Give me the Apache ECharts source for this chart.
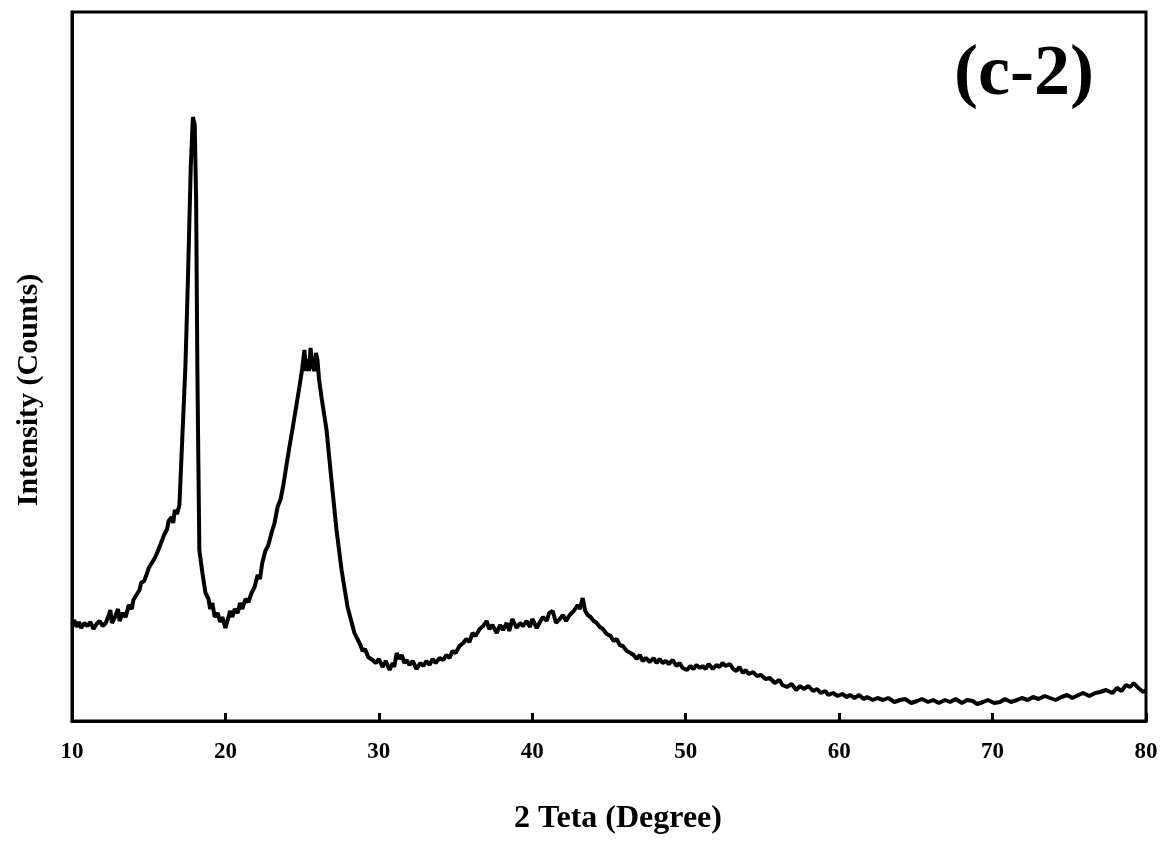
<!DOCTYPE html>
<html>
<head>
<meta charset="utf-8">
<script src="https://cdn.jsdelivr.net/npm/echarts@6/dist/echarts.min.js"></script>
<style>
  html, body { margin: 0; padding: 0; background: #fff; }
  #chart { width: 1162px; height: 841px; }
</style>
</head>
<body>
<div id="chart"></div>
<script>
// 2-theta positions (degree)
var twoTheta = [
  10.0, 10.15, 10.3, 10.45, 10.6, 10.8, 11.0, 11.2, 11.4, 11.6, 11.8, 12.0, 12.2, 12.4, 12.5, 12.6, 12.8, 13.0, 13.1, 13.3,
  13.5, 13.7, 13.9, 14.0, 14.2, 14.4, 14.5, 14.7, 14.9, 15.0, 15.2, 15.4, 15.6, 15.8, 16.0, 16.2, 16.3, 16.5, 16.6, 16.7,
  16.85, 17.0, 17.1, 17.39, 17.55, 17.74, 17.88, 18.0, 18.09, 18.17, 18.24, 18.3, 18.5, 18.7, 18.9, 19.0, 19.15, 19.3, 19.5, 19.65,
  19.8, 20.0, 20.15, 20.3, 20.45, 20.6, 20.8, 20.95, 21.1, 21.3, 21.5, 21.7, 21.9, 22.1, 22.25, 22.4, 22.6, 22.8, 23.0, 23.2,
  23.4, 23.6, 23.8, 24.0, 24.17, 24.35, 24.5, 24.65, 24.82, 25.0, 25.15, 25.25, 25.35, 25.45, 25.55, 25.65, 25.8, 25.9, 26.0, 26.1,
  26.26, 26.59, 26.91, 27.24, 27.57, 27.96, 28.2, 28.41, 28.6, 28.8, 28.94, 29.1, 29.3, 29.59, 29.8, 30.0, 30.24, 30.45, 30.7, 30.9,
  31.0, 31.16, 31.35, 31.5, 31.65, 31.81, 32.0, 32.2, 32.46, 32.7, 32.9, 33.1, 33.31, 33.5, 33.7, 33.96, 34.2, 34.4, 34.61, 34.8,
  35.0, 35.26, 35.5, 35.7, 35.91, 36.1, 36.3, 36.57, 36.8, 37.02, 37.2, 37.4, 37.68, 37.9, 38.1, 38.33, 38.5, 38.7, 38.98, 39.2,
  39.4, 39.63, 39.85, 40.0, 40.29, 40.5, 40.7, 40.94, 41.1, 41.33, 41.55, 41.79, 42.0, 42.2, 42.44, 42.7, 42.96, 43.1, 43.29, 43.45,
  43.61, 43.8, 44.0, 44.2, 44.4, 44.6, 44.85, 45.1, 45.3, 45.5, 45.7, 45.9, 46.16, 46.4, 46.6, 46.81, 47.0, 47.2, 47.4, 47.66,
  47.9, 48.1, 48.3, 48.5, 48.7, 48.9, 49.16, 49.4, 49.6, 49.8, 50.08, 50.3, 50.5, 50.7, 50.92, 51.1, 51.3, 51.5, 51.77, 52.0,
  52.2, 52.4, 52.6, 52.88, 53.1, 53.3, 53.5, 53.73, 53.9, 54.1, 54.4, 54.64, 54.9, 55.2, 55.49, 55.8, 56.1, 56.3, 56.6, 56.9,
  57.2, 57.45, 57.7, 58.0, 58.3, 58.56, 58.8, 59.1, 59.3, 59.6, 59.9, 60.2, 60.5, 60.71, 61.0, 61.3, 61.6, 61.82, 62.2, 62.5,
  62.86, 63.2, 63.6, 63.97, 64.3, 64.7, 65.08, 65.4, 65.8, 66.12, 66.5, 66.9, 67.23, 67.6, 68.0, 68.34, 68.7, 69.0, 69.38, 69.7,
  70.1, 70.49, 70.8, 71.2, 71.6, 71.9, 72.3, 72.64, 73.0, 73.4, 73.75, 74.1, 74.5, 74.86, 75.2, 75.6, 75.9, 76.3, 76.7, 77.01,
  77.4, 77.8, 78.12, 78.4, 78.7, 78.97, 79.2, 79.5, 79.82, 80.0
];
// intensity (arbitrary counts)
var intensity = [
  96, 101, 94, 99, 93, 98, 95, 99, 92, 97, 100, 95, 98, 106, 111, 98, 104, 112, 100, 108,
  104, 116, 112, 121, 126, 131, 138, 140, 148, 153, 158, 163, 170, 178, 186, 192, 200, 204, 198, 211,
  207, 216, 218, 354, 438, 554, 604, 596, 521, 354, 254, 171, 148, 128, 122, 112, 118, 104, 108, 99,
  104, 93, 101, 110, 104, 112, 108, 118, 112, 122, 119, 128, 134, 146, 142, 158, 170, 176, 188, 198,
  214, 222, 238, 258, 274, 290, 304, 318, 334, 352, 371, 350, 362, 350, 373, 356, 350, 368, 361, 342,
  324, 291, 241, 191, 151, 114, 100, 88, 82, 76, 70, 72, 64, 61, 58, 62, 54, 60, 51, 58,
  54, 68, 62, 66, 58, 61, 56, 60, 52, 58, 55, 60, 56, 62, 58, 63, 61, 66, 63, 70,
  68, 75, 78, 82, 79, 88, 85, 92, 95, 100, 92, 96, 88, 96, 91, 98, 90, 102, 93, 98,
  95, 100, 94, 102, 93, 99, 104, 100, 108, 110, 98, 102, 106, 100, 106, 110, 116, 112, 123, 110,
  106, 104, 100, 98, 94, 92, 87, 85, 80, 82, 76, 75, 70, 68, 66, 62, 66, 60, 63, 59,
  63, 58, 62, 58, 60, 57, 61, 55, 58, 53, 51, 55, 52, 56, 53, 55, 52, 57, 52, 56,
  54, 58, 55, 57, 52, 50, 54, 48, 51, 47, 49, 45, 46, 42, 43, 38, 41, 36, 34, 37,
  31, 35, 32, 35, 30, 32, 28, 30, 26, 28, 25, 27, 24, 26, 23, 26, 22, 24, 21, 23,
  21, 23, 19, 21, 22, 18, 20, 22, 19, 21, 18, 21, 19, 22, 18, 21, 20, 17, 19, 21,
  18, 19, 22, 19, 21, 23, 21, 24, 22, 25, 23, 21, 24, 26, 23, 26, 28, 25, 28, 29,
  31, 28, 33, 30, 36, 34, 38, 33, 29, 31
];
var xTicks = [10, 20, 30, 40, 50, 60, 70, 80];

var serif = '"Liberation Serif", "DejaVu Serif", serif';
var chart = echarts.init(document.getElementById('chart'));

var points = twoTheta.map(function (x, i) { return [x, intensity[i]]; });

var option = {
  backgroundColor: '#fff',
  animation: false,
  grid: {
    left: 72, right: 16, top: 12, bottom: 120,
    show: true,
    borderColor: '#000',
    borderWidth: 3
  },
  xAxis: {
    type: 'value',
    min: xTicks[0],
    max: xTicks[xTicks.length - 1],
    interval: 10,
    name: '2 Teta (Degree)',
    nameLocation: 'middle',
    nameGap: 82,
    nameTextStyle: { fontFamily: serif, fontWeight: 'bold', fontSize: 32, color: '#000', padding: [0, 0, 0, 18] },
    axisLine: { lineStyle: { color: '#000', width: 3 } },
    axisTick: { inside: true, length: 8, lineStyle: { color: '#000', width: 3 } },
    axisLabel: { margin: 20, fontFamily: serif, fontWeight: 'bold', fontSize: 23, color: '#000' },
    splitLine: { show: false }
  },
  yAxis: {
    type: 'value',
    min: 0,
    max: 709,
    axisLine: { show: true, lineStyle: { color: '#000', width: 3 } },
    axisTick: { show: false },
    axisLabel: { show: false },
    splitLine: { show: false }
  },
  graphic: [
    {
      type: 'text',
      x: 29, y: 390,
      rotation: Math.PI / 2,
      style: {
        text: 'Intensity (Counts)',
        font: 'bold 30px ' + serif,
        fill: '#000',
        align: 'center',
        verticalAlign: 'middle'
      }
    },
    {
      type: 'text',
      x: 1024, y: 75,
      style: {
        text: '(c-2)',
        font: 'bold 72px ' + serif,
        fill: '#000',
        align: 'center',
        verticalAlign: 'middle'
      }
    }
  ],
  series: [{
    type: 'line',
    data: points,
    showSymbol: false,
    smooth: false,
    lineStyle: { color: '#000', width: 4 }
  }]
};

chart.setOption(option);
</script>
</body>
</html>
